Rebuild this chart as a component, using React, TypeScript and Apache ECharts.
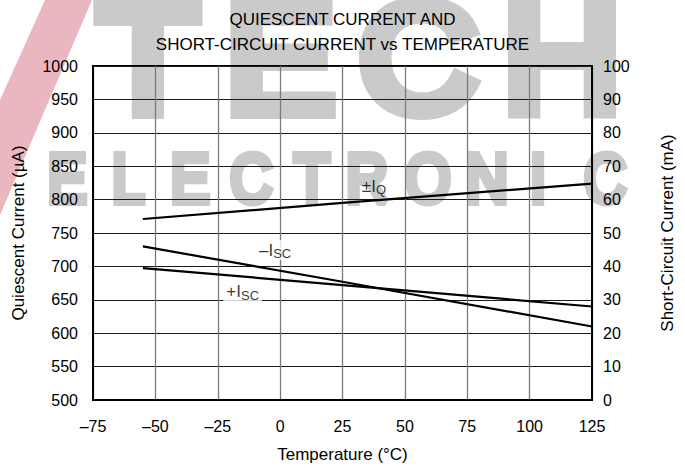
import React, { useEffect, useRef } from 'react';
import * as echarts from 'echarts';

// ---- data ----
const tempTicks = [-75, -50, -25, 0, 25, 50, 75, 100, 125];
const tempTickLabels = ['–75', '–50', '–25', '0', '25', '50', '75', '100', '125'];
const temps = [-55, 25, 125];
const quiescentUA = [771, 795, 824];
const iscNegativeMA = [46, 35.4, 22];
const iscPositiveMA = [39.5, 34.4, 28];

// curve annotations: [temperature, value] in the axis units of their curve
const labelIQ = [37.6, 820];
const labelIscNeg = [-2, 44.9];
const labelIscPos = [-15, 32.4];

const watermarkTop = ['T', 'E', 'C', 'H'];
const watermarkRow = ['E', 'L', 'E', 'C', 'T', 'R', 'O', 'N', 'I', 'C'];

const FONT = '"Liberation Sans", Arial, Helvetica, sans-serif';

function subLabel(main: string, sub: string) {
  return `{a|${main}}{b|${sub}}`;
}

const rich = {
  a: { fontSize: 17, lineHeight: 20, color: '#000', fontFamily: FONT },
  b: { fontSize: 13, lineHeight: 10, verticalAlign: 'bottom', color: '#000', fontFamily: FONT },
};

export default function App() {
  const ref = useRef<HTMLDivElement>(null);
  useEffect(() => {
    if (!ref.current) return;
    const chart = echarts.init(ref.current, null, { renderer: 'svg' });

    const topX = [148, 280, 418, 562];
    const rowX = [67, 128, 190, 251, 312, 367, 428, 487, 538, 605];
    const wmGray = '#cacaca';

    const graphic: any[] = [
      {
        type: 'polygon',
        z: -20,
        silent: true,
        shape: { points: [[45, 0], [92, 0], [0, 215], [0, 100]] },
        style: { fill: '#eab7c1' },
      },
      ...watermarkTop.map((ch, i) => ({
        type: 'text',
        z: -20,
        silent: true,
        x: topX[i],
        y: 58,
        scaleX: 1.07,
        style: {
          text: ch,
          fontSize: 152,
          fontFamily: FONT,
          fill: wmGray,
          stroke: wmGray,
          lineWidth: 16,
          lineJoin: 'miter',
          align: 'center',
          verticalAlign: 'middle',
        },
      })),
      ...watermarkRow.map((ch, i) => ({
        type: 'text',
        z: -20,
        silent: true,
        x: rowX[i],
        y: 178,
        scaleX: 0.85,
        style: {
          text: ch,
          fontSize: 68,
          fontFamily: FONT,
          fill: wmGray,
          stroke: wmGray,
          lineWidth: 8,
          lineJoin: 'miter',
          align: 'center',
          verticalAlign: 'middle',
        },
      })),
    ];

    const lineStyle = { color: '#000', width: 2.2 };

    chart.setOption({
      animation: false,
      textStyle: { fontFamily: FONT },
      title: {
        text: 'QUIESCENT CURRENT AND\nSHORT-CIRCUIT CURRENT vs TEMPERATURE',
        left: 'center',
        top: 2,
        textStyle: { fontSize: 17, fontWeight: 'normal', color: '#000', lineHeight: 25, fontFamily: FONT },
      },
      graphic,
      grid: {
        left: 93,
        right: 93,
        top: 66,
        bottom: 66,
        show: true,
        borderColor: '#000',
        borderWidth: 2,
        backgroundColor: 'transparent',
      },
      xAxis: {
        type: 'value',
        min: -75,
        max: 125,
        interval: 25,
        name: 'Temperature (°C)',
        nameLocation: 'middle',
        nameGap: 46,
        nameTextStyle: { fontSize: 17, color: '#000', fontFamily: FONT },
        axisLine: { show: true, onZero: false, lineStyle: { color: '#000', width: 2 } },
        axisTick: { show: false },
        axisLabel: {
          fontSize: 16,
          color: '#000',
          margin: 18,
          fontFamily: FONT,
          formatter: (v: number) => {
            const i = tempTicks.indexOf(v);
            return i >= 0 ? tempTickLabels[i] : String(v);
          },
        },
        splitLine: { show: true, lineStyle: { color: '#7a7a7a', width: 1.3 } },
      },
      yAxis: [
        {
          type: 'value',
          min: 500,
          max: 1000,
          interval: 50,
          name: 'Quiescent Current (µA)',
          nameLocation: 'middle',
          nameGap: 66,
          nameTextStyle: { fontSize: 17, color: '#000', fontFamily: FONT },
          axisLine: { show: true, onZero: false, lineStyle: { color: '#000', width: 2 } },
          axisTick: { show: false },
          axisLabel: {
            fontSize: 16,
            color: '#000',
            margin: 15,
            fontFamily: FONT,
            formatter: (v: number) => String(v),
          },
          splitLine: { show: true, lineStyle: { color: '#1a1a1a', width: 1 } },
        },
        {
          type: 'value',
          min: 0,
          max: 100,
          interval: 10,
          position: 'right',
          name: 'Short-Circuit Current (mA)',
          nameLocation: 'middle',
          nameGap: 67,
          nameTextStyle: { fontSize: 17, color: '#000', fontFamily: FONT },
          axisLine: { show: true, onZero: false, lineStyle: { color: '#000', width: 2 } },
          axisTick: { show: false },
          axisLabel: {
            fontSize: 16,
            color: '#000',
            margin: 11,
            fontFamily: FONT,
            formatter: (v: number) => String(v),
          },
          splitLine: { show: false },
        },
      ],
      series: [
        {
          name: '±IQ',
          type: 'line',
          yAxisIndex: 0,
          symbol: 'none',
          lineStyle,
          data: temps.map((t, i) => [t, quiescentUA[i]]),
          z: 5,
        },
        {
          name: '–ISC',
          type: 'line',
          yAxisIndex: 1,
          symbol: 'none',
          lineStyle,
          data: temps.map((t, i) => [t, iscNegativeMA[i]]),
          z: 5,
        },
        {
          name: '+ISC',
          type: 'line',
          yAxisIndex: 1,
          symbol: 'none',
          lineStyle,
          data: temps.map((t, i) => [t, iscPositiveMA[i]]),
          z: 5,
        },
        {
          type: 'scatter',
          yAxisIndex: 0,
          symbolSize: 0,
          silent: true,
          z: 6,
          data: [labelIQ],
          label: { show: true, position: 'inside', formatter: subLabel('±I', 'Q'), rich },
        },
        {
          type: 'scatter',
          yAxisIndex: 1,
          symbolSize: 0,
          silent: true,
          z: 6,
          data: [labelIscNeg],
          label: {
            show: true,
            position: 'inside',
            formatter: subLabel('–I', 'SC'),
            rich,
            backgroundColor: '#fff',
            padding: [0, 3],
          },
        },
        {
          type: 'scatter',
          yAxisIndex: 1,
          symbolSize: 0,
          silent: true,
          z: 6,
          data: [labelIscPos],
          label: {
            show: true,
            position: 'inside',
            formatter: subLabel('+I', 'SC'),
            rich,
            backgroundColor: '#fff',
            padding: [0, 3],
          },
        },
      ],
    });
    return () => chart.dispose();
  }, []);

  return (
    <div
      ref={ref}
      style={{ position: 'fixed', left: 0, top: 0, width: 685, height: 468, background: '#fff' }}
    />
  );
}
